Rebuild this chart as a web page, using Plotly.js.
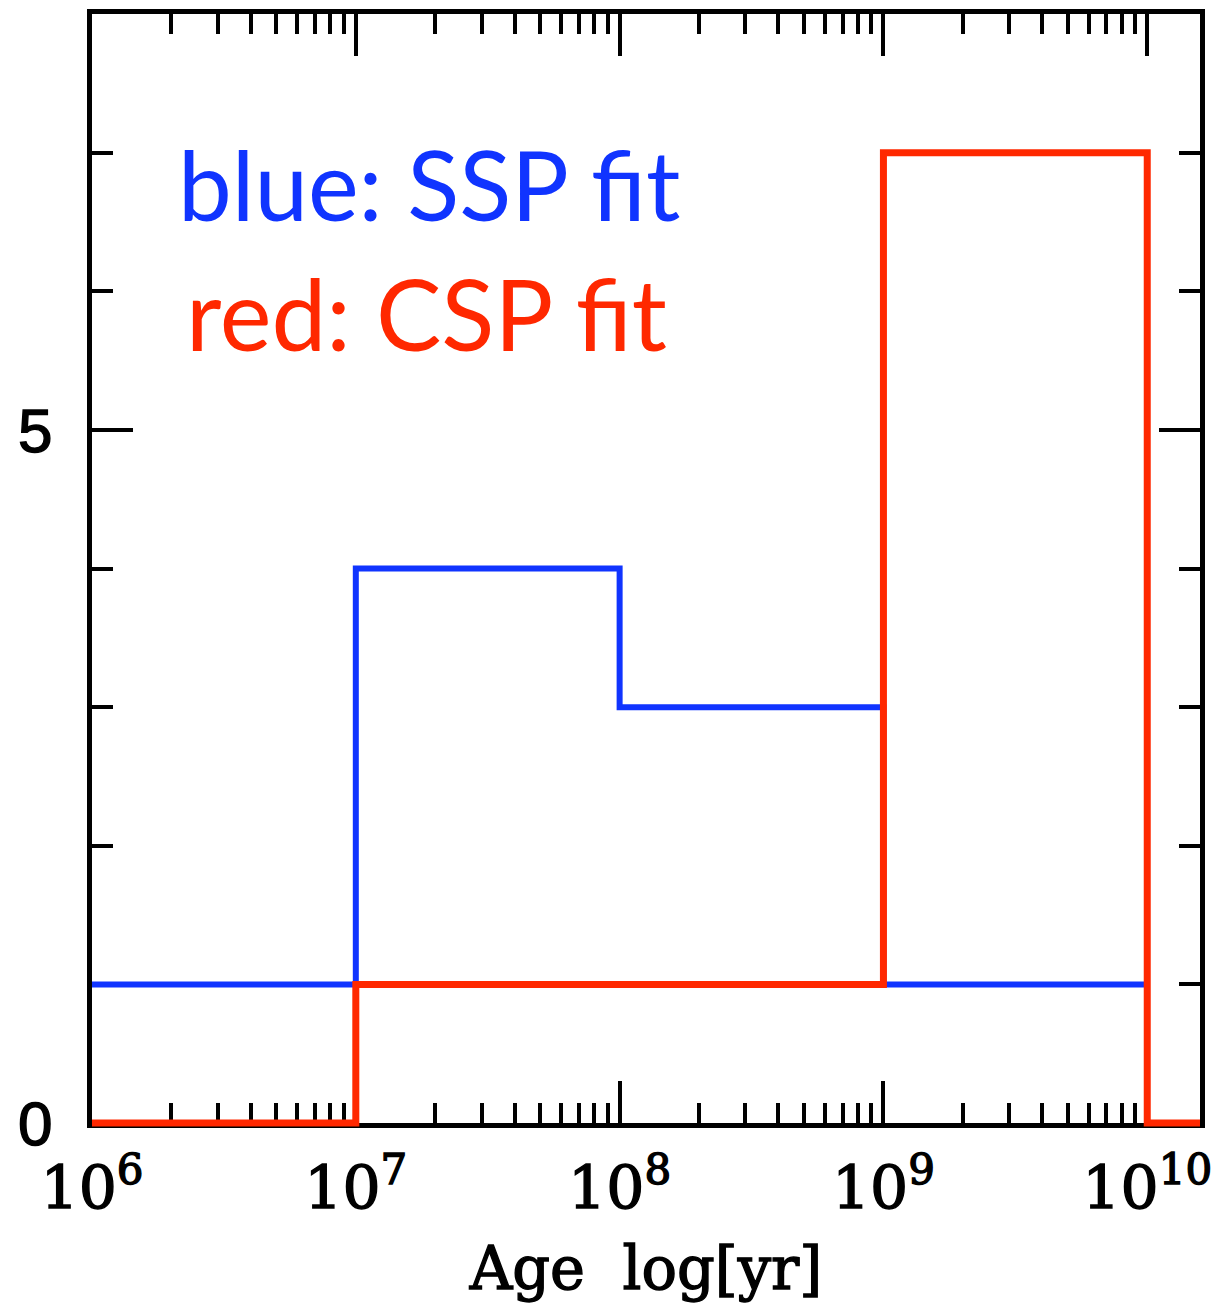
<!DOCTYPE html>
<html>
<head>
<meta charset="utf-8">
<script src="https://cdn.plot.ly/plotly-3.0.1.min.js"></script>
<style>
  html, body { margin: 0; padding: 0; background: #ffffff; }
  #chart { width: 1215px; height: 1303px; }
  /* slightly heavier strokes for the axis lettering */
  #chart .xtick text, #chart .ytick text, #chart .g-xtitle text {
    stroke: #000; stroke-width: 1.4px; paint-order: stroke fill;
  }
</style>
</head>
<body>
<div id="chart"></div>
<script>
// Age bins (years) and the weight of each bin for the two fits
const ageEdges = [1e6, 1e7, 1e8, 1e9, 1e10];
const sspWeights = [1, 4, 3, 1];
const cspWeights = [0, 1, 1, 7];

// Axis extents and labels
const xRangeLog = [6, 10.2];
const yRange = [0, 8];
const xTickVals = [1e6, 1e7, 1e8, 1e9, 1e10];
const xTickText = ['10<sup>6</sup>', '10<sup>7</sup>', '10<sup>8</sup>', '10<sup>9</sup>', '10<sup>10</sup>'];
const yTickVals = [0, 5];
const yTickText = ['0', '5'];
const xTitle = 'Age\u00a0\u00a0log[yr]';
const fitLabels = ['blue: SSP fit', 'red: CSP fit'];

const blue = 'rgb(16,52,255)';
const red = 'rgb(255,40,0)';

// Page and frame geometry
const W = 1215, H = 1303;
const frame = { l: 92, r: 15, t: 14, b: 180 };
// The traces live on a slightly larger hidden subplot so that lines lying
// on the frame edges are not clipped in half.
const pad = 12;
const plotW = W - frame.l - frame.r + 2 * pad;
const plotH = H - frame.t - frame.b + 2 * pad;
const frameW = plotW - 2 * pad;
const frameH = plotH - 2 * pad;
const xPadLog = pad * (xRangeLog[1] - xRangeLog[0]) / frameW;
const yPad = pad * (yRange[1] - yRange[0]) / frameH;

// Step outlines: horizontal across each bin, vertical at each edge
const sspX = ageEdges.slice();
const sspY = sspWeights.concat([sspWeights[sspWeights.length - 1]]);
const cspX = ageEdges.concat([Math.pow(10, xRangeLog[1])]);
const cspY = cspWeights.concat([0, 0]);

const traces = [
  {
    x: sspX, y: sspY, type: 'scatter', mode: 'lines',
    line: { shape: 'hv', color: blue, width: 6 },
    xaxis: 'x2', yaxis: 'y2', hoverinfo: 'skip', showlegend: false
  },
  {
    x: cspX, y: cspY, type: 'scatter', mode: 'lines',
    line: { shape: 'hv', color: red, width: 7 },
    xaxis: 'x2', yaxis: 'y2', hoverinfo: 'skip', showlegend: false
  }
];

const serif = 'DejaVu Serif, serif';
const sans = 'Liberation Sans, Arial, sans-serif';
const humanist = 'Lato, Open Sans, sans-serif';

const layout = {
  width: W, height: H,
  margin: { l: frame.l - pad, r: frame.r - pad, t: frame.t - pad, b: frame.b - pad, pad: 0 },
  paper_bgcolor: '#ffffff',
  plot_bgcolor: 'rgba(0,0,0,0)',
  showlegend: false,
  // framed axes with ticks on all four sides
  xaxis: {
    type: 'log', range: xRangeLog, domain: [pad / plotW, 1 - pad / plotW], anchor: 'y',
    showline: true, linewidth: 5, linecolor: '#000', mirror: 'ticks',
    ticks: 'inside', ticklen: 42, tickwidth: 4, tickcolor: '#000',
    tickmode: 'array', tickvals: xTickVals, ticktext: xTickText,
    tickfont: { family: serif, size: 60, color: '#000' },
    ticklabelstandoff: 9,
    minor: { ticks: 'inside', ticklen: 20, tickwidth: 4, tickcolor: '#000', dtick: 'D1' },
    showgrid: false, zeroline: false, fixedrange: true,
    title: { text: xTitle, font: { family: serif, size: 59, color: '#000' }, standoff: 34 }
  },
  yaxis: {
    range: yRange, domain: [pad / plotH, 1 - pad / plotH], anchor: 'x',
    showline: true, linewidth: 5, linecolor: '#000', mirror: 'ticks',
    ticks: 'inside', ticklen: 41, tickwidth: 4, tickcolor: '#000',
    tickmode: 'array', tickvals: yTickVals, ticktext: yTickText,
    tickfont: { family: sans, size: 62, color: '#000' },
    ticklabelstandoff: 22,
    minor: { ticks: 'inside', ticklen: 21, tickwidth: 4, tickcolor: '#000', dtick: 1 },
    showgrid: false, zeroline: false, fixedrange: true
  },
  // hidden axes carrying the data
  xaxis2: {
    type: 'log', range: [xRangeLog[0] - xPadLog, xRangeLog[1] + xPadLog],
    domain: [0, 1], anchor: 'y2', visible: false, fixedrange: true
  },
  yaxis2: {
    range: [yRange[0] - yPad, yRange[1] + yPad],
    domain: [0, 1], anchor: 'x2', visible: false, fixedrange: true
  },
  annotations: [
    {
      text: fitLabels[0], xref: 'x', yref: 'y', x: 6.317, y: 6.78,
      xanchor: 'left', yanchor: 'middle', showarrow: false,
      font: { family: humanist, size: 96, color: blue }
    },
    {
      text: fitLabels[1], xref: 'x', yref: 'y', x: 6.349, y: 5.84,
      xanchor: 'left', yanchor: 'middle', showarrow: false,
      font: { family: humanist, size: 98, color: red }
    }
  ]
};

Plotly.newPlot('chart', traces, layout, { staticPlot: true, displayModeBar: false });
</script>
</body>
</html>
